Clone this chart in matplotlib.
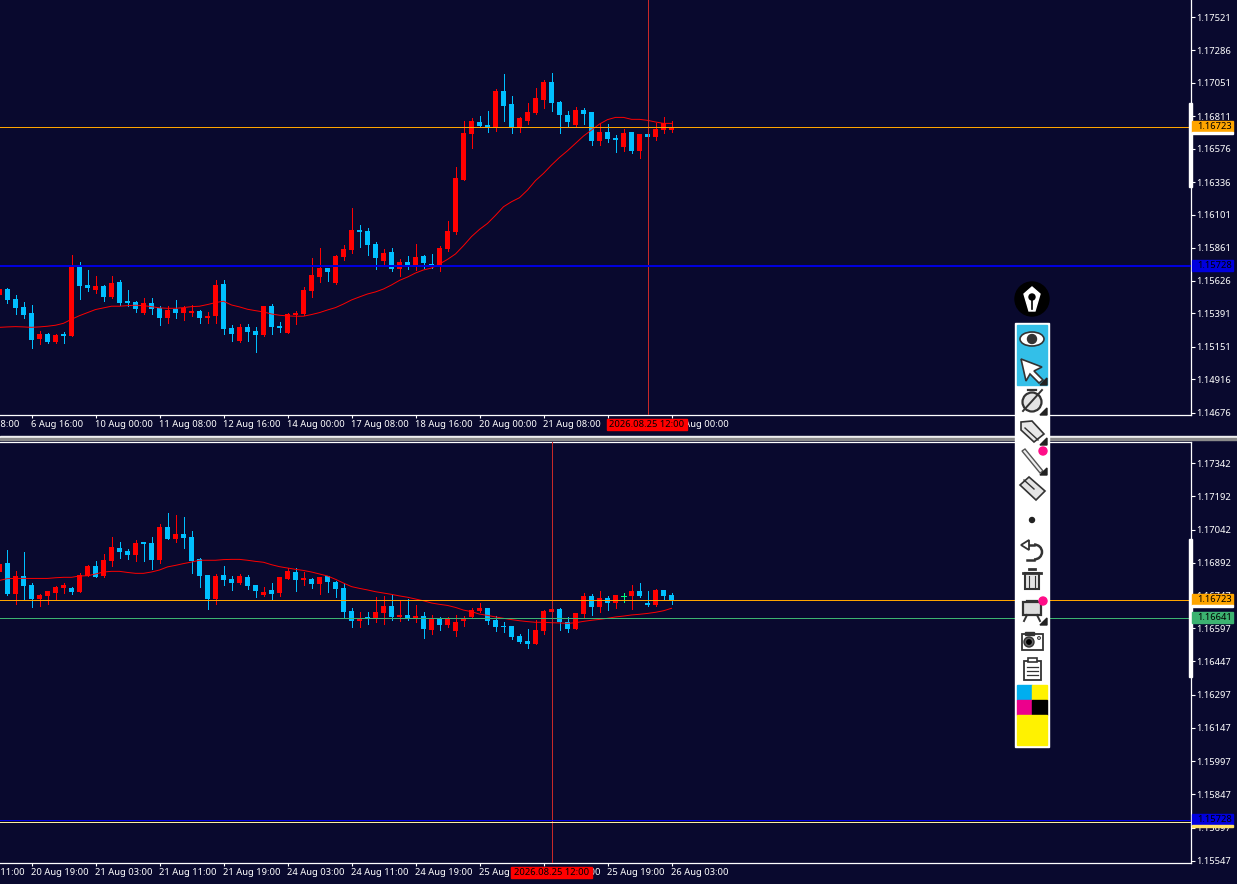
"""EURUSD terminal screenshot: two candle panels with moving average and toolbar."""

import matplotlib

matplotlib.use("Agg")
import matplotlib.pyplot as plt
import numpy as np
from matplotlib.patches import Circle, Ellipse, Polygon, Rectangle, Arc

W, H = 1237, 884
BG = "#09092E"
UP = "#FF0000"
DOWN = "#00BFFF"
DOJI = "#00FF7F"
MA_C = "#FF0000"
CROSS_C = "#C82828"
ORANGE = "#FFA500"
GREEN = "#3CB371"
BLUE = "#0000DD"
FONT = ["Noto Sans", "DejaVu Sans"]
FS = 6.75

# upper panel (first bar is cut by the left edge)
top_open = [1.15523, 1.15566, 1.15494, 1.15437, 1.15394, 1.15206, 1.15242, 1.15185, 1.15242, 1.15228, 1.15725,
            1.15595, 1.15559, 1.15588, 1.15509, 1.15617, 1.15480, 1.15473, 1.15394, 1.15466, 1.15430, 1.15358,
            1.15422, 1.15394, 1.15394, 1.15408, 1.15358, 1.15372, 1.15602, 1.15286, 1.15192, 1.15293, 1.15264,
            1.15235, 1.15444, 1.15300, 1.15250, 1.15379, 1.15386, 1.15552, 1.15653, 1.15717, 1.15610, 1.15796,
            1.15847, 1.15991, 1.15983, 1.15890, 1.15767, 1.15832, 1.15710, 1.15760, 1.15739, 1.15803, 1.15746,
            1.15739, 1.15854, 1.15976, 1.16350, 1.16681, 1.16768, 1.16746, 1.16732, 1.16991, 1.16897, 1.16732,
            1.16775, 1.16833, 1.16926, 1.17056, 1.16912, 1.16818, 1.16746, 1.16854, 1.16840, 1.16631, 1.16696,
            1.16653, 1.16588, 1.16696, 1.16559, 1.16681, 1.16660, 1.16710, 1.16710]
top_high = [1.15566, 1.15571, 1.15523, 1.15473, 1.15451, 1.15264, 1.15250, 1.15242, 1.15257, 1.15811, 1.15761,
            1.15703, 1.15660, 1.15595, 1.15660, 1.15631, 1.15559, 1.15480, 1.15502, 1.15502, 1.15444, 1.15444,
            1.15487, 1.15444, 1.15451, 1.15415, 1.15401, 1.15631, 1.15631, 1.15307, 1.15314, 1.15314, 1.15293,
            1.15444, 1.15458, 1.15329, 1.15394, 1.15408, 1.15581, 1.15789, 1.15861, 1.15717, 1.15811, 1.15883,
            1.16149, 1.16026, 1.16005, 1.15904, 1.15854, 1.15861, 1.15782, 1.15803, 1.15890, 1.15811, 1.15818,
            1.15875, 1.16055, 1.16444, 1.16775, 1.16797, 1.16811, 1.16847, 1.17005, 1.17113, 1.16955, 1.16804,
            1.16905, 1.17012, 1.17070, 1.17120, 1.16919, 1.16847, 1.16876, 1.16869, 1.16840, 1.16753, 1.16753,
            1.16674, 1.16717, 1.16696, 1.16681, 1.16681, 1.16761, 1.16804, 1.16775]
top_low = [1.15523, 1.15468, 1.15386, 1.15358, 1.15142, 1.15171, 1.15178, 1.15178, 1.15178, 1.15228, 1.15494,
           1.15552, 1.15538, 1.15480, 1.15502, 1.15451, 1.15444, 1.15401, 1.15386, 1.15386, 1.15307, 1.15322,
           1.15358, 1.15343, 1.15372, 1.15322, 1.15322, 1.15322, 1.15242, 1.15192, 1.15185, 1.15192, 1.15113,
           1.15228, 1.15242, 1.15257, 1.15250, 1.15314, 1.15379, 1.15509, 1.15617, 1.15624, 1.15602, 1.15775,
           1.15825, 1.15868, 1.15811, 1.15710, 1.15746, 1.15695, 1.15659, 1.15710, 1.15703, 1.15717, 1.15717,
           1.15695, 1.15839, 1.15962, 1.16350, 1.16581, 1.16732, 1.16696, 1.16703, 1.16775, 1.16689, 1.16696,
           1.16753, 1.16825, 1.16869, 1.16847, 1.16689, 1.16739, 1.16732, 1.16753, 1.16602, 1.16602, 1.16624,
           1.16552, 1.16559, 1.16545, 1.16509, 1.16660, 1.16638, 1.16689, 1.16696]
top_close = [1.15566, 1.15490, 1.15430, 1.15379, 1.15199, 1.15242, 1.15185, 1.15235, 1.15228, 1.15725, 1.15588,
             1.15574, 1.15588, 1.15509, 1.15610, 1.15466, 1.15466, 1.15422, 1.15466, 1.15422, 1.15358, 1.15415,
             1.15394, 1.15430, 1.15408, 1.15358, 1.15372, 1.15595, 1.15278, 1.15242, 1.15293, 1.15257, 1.15235,
             1.15444, 1.15293, 1.15286, 1.15386, 1.15394, 1.15559, 1.15667, 1.15717, 1.15689, 1.15804, 1.15854,
             1.15991, 1.15976, 1.15883, 1.15789, 1.15825, 1.15710, 1.15760, 1.15739, 1.15796, 1.15753, 1.15739,
             1.15861, 1.15983, 1.16365, 1.16689, 1.16775, 1.16739, 1.16732, 1.16991, 1.16883, 1.16732, 1.16797,
             1.16840, 1.16941, 1.17056, 1.16905, 1.16818, 1.16768, 1.16854, 1.16825, 1.16631, 1.16696, 1.16645,
             1.16638, 1.16689, 1.16559, 1.16681, 1.16660, 1.16717, 1.16761, 1.16725]
top_ma = [1.15290, 1.15293, 1.15295, 1.15293, 1.15290, 1.15293, 1.15298, 1.15305, 1.15319, 1.15348, 1.15374,
          1.15396, 1.15418, 1.15430, 1.15442, 1.15442, 1.15446, 1.15449, 1.15446, 1.15439, 1.15430, 1.15427,
          1.15427, 1.15432, 1.15439, 1.15442, 1.15454, 1.15468, 1.15478, 1.15451, 1.15437, 1.15420, 1.15410,
          1.15401, 1.15386, 1.15377, 1.15372, 1.15370, 1.15370, 1.15382, 1.15396, 1.15415, 1.15432, 1.15458,
          1.15487, 1.15509, 1.15530, 1.15545, 1.15566, 1.15595, 1.15628, 1.15652, 1.15681, 1.15703, 1.15717,
          1.15746, 1.15779, 1.15818, 1.15878, 1.15943, 1.15995, 1.16038, 1.16096, 1.16158, 1.16194, 1.16223,
          1.16278, 1.16346, 1.16398, 1.16458, 1.16513, 1.16561, 1.16614, 1.16667, 1.16710, 1.16753, 1.16785,
          1.16801, 1.16801, 1.16787, 1.16787, 1.16780, 1.16768, 1.16758, 1.16758]

# lower panel
bot_open = [1.16851, 1.16892, 1.16752, 1.16833, 1.16792, 1.16729, 1.16743, 1.16756, 1.16779, 1.16779, 1.16761,
            1.16833, 1.16878, 1.16833, 1.16901, 1.16959, 1.16946, 1.16928, 1.16986, 1.16982, 1.16905, 1.17054,
            1.17000, 1.17023, 1.17009, 1.16910, 1.16837, 1.16729, 1.16837, 1.16819, 1.16801, 1.16828, 1.16792,
            1.16747, 1.16770, 1.16756, 1.16819, 1.16851, 1.16815, 1.16819, 1.16797, 1.16833, 1.16806, 1.16779,
            1.16675, 1.16630, 1.16648, 1.16643, 1.16666, 1.16697, 1.16648, 1.16657, 1.16643, 1.16652, 1.16589,
            1.16639, 1.16612, 1.16584, 1.16630, 1.16648, 1.16675, 1.16688, 1.16634, 1.16607, 1.16607, 1.16562,
            1.16539, 1.16526, 1.16584, 1.16670, 1.16684, 1.16625, 1.16593, 1.16661, 1.16743, 1.16693, 1.16734,
            1.16711, 1.16743, 1.16743, 1.16765, 1.16711, 1.16702, 1.16770, 1.16747]
bot_high = [1.16887, 1.16950, 1.16855, 1.16941, 1.16801, 1.16752, 1.16765, 1.16788, 1.16801, 1.16783, 1.16846,
            1.16883, 1.16901, 1.16932, 1.17009, 1.16986, 1.16955, 1.16995, 1.16986, 1.17009, 1.17068, 1.17117,
            1.17108, 1.17099, 1.17036, 1.16914, 1.16837, 1.16842, 1.16878, 1.16833, 1.16842, 1.16837, 1.16792,
            1.16783, 1.16801, 1.16828, 1.16869, 1.16869, 1.16851, 1.16824, 1.16828, 1.16833, 1.16810, 1.16800,
            1.16688, 1.16670, 1.16670, 1.16738, 1.16743, 1.16747, 1.16720, 1.16729, 1.16702, 1.16670, 1.16657,
            1.16648, 1.16648, 1.16657, 1.16652, 1.16688, 1.16711, 1.16688, 1.16652, 1.16625, 1.16607, 1.16571,
            1.16593, 1.16634, 1.16679, 1.16684, 1.16688, 1.16648, 1.16666, 1.16756, 1.16752, 1.16765, 1.16743,
            1.16747, 1.16756, 1.16792, 1.16801, 1.16765, 1.16774, 1.16770, 1.16756]
bot_low = [1.16851, 1.16747, 1.16706, 1.16724, 1.16693, 1.16697, 1.16706, 1.16729, 1.16756, 1.16752, 1.16761,
           1.16833, 1.16828, 1.16828, 1.16878, 1.16914, 1.16910, 1.16901, 1.16901, 1.16864, 1.16892, 1.17000,
           1.16986, 1.16959, 1.16846, 1.16783, 1.16684, 1.16706, 1.16792, 1.16770, 1.16797, 1.16774, 1.16738,
           1.16743, 1.16724, 1.16743, 1.16819, 1.16765, 1.16792, 1.16779, 1.16752, 1.16761, 1.16738, 1.16642,
           1.16603, 1.16603, 1.16616, 1.16625, 1.16616, 1.16634, 1.16630, 1.16634, 1.16625, 1.16553, 1.16571,
           1.16589, 1.16603, 1.16562, 1.16607, 1.16643, 1.16670, 1.16616, 1.16584, 1.16580, 1.16548, 1.16530,
           1.16508, 1.16526, 1.16571, 1.16670, 1.16589, 1.16580, 1.16593, 1.16643, 1.16657, 1.16670, 1.16679,
           1.16688, 1.16715, 1.16684, 1.16738, 1.16697, 1.16697, 1.16724, 1.16706]
bot_close = [1.16887, 1.16752, 1.16833, 1.16788, 1.16729, 1.16747, 1.16765, 1.16783, 1.16792, 1.16761, 1.16837,
             1.16878, 1.16828, 1.16905, 1.16964, 1.16941, 1.16928, 1.16982, 1.16977, 1.16905, 1.17054, 1.17000,
             1.17023, 1.17005, 1.16901, 1.16833, 1.16729, 1.16833, 1.16815, 1.16801, 1.16833, 1.16788, 1.16765,
             1.16761, 1.16752, 1.16828, 1.16855, 1.16815, 1.16824, 1.16797, 1.16828, 1.16806, 1.16774, 1.16670,
             1.16630, 1.16639, 1.16639, 1.16670, 1.16697, 1.16648, 1.16657, 1.16639, 1.16652, 1.16593, 1.16639,
             1.16612, 1.16639, 1.16625, 1.16643, 1.16679, 1.16688, 1.16630, 1.16603, 1.16603, 1.16557, 1.16535,
             1.16526, 1.16589, 1.16675, 1.16684, 1.16625, 1.16593, 1.16666, 1.16743, 1.16693, 1.16734, 1.16711,
             1.16747, 1.16743, 1.16765, 1.16743, 1.16702, 1.16770, 1.16743, 1.16723]
bot_ma = [1.16813, 1.16821, 1.16822, 1.16822, 1.16822, 1.16822, 1.16822, 1.16825, 1.16827, 1.16827, 1.16833,
          1.16834, 1.16842, 1.16851, 1.16854, 1.16854, 1.16849, 1.16845, 1.16845, 1.16851, 1.16860, 1.16874,
          1.16881, 1.16889, 1.16896, 1.16904, 1.16904, 1.16904, 1.16907, 1.16908, 1.16908, 1.16904, 1.16899,
          1.16895, 1.16884, 1.16875, 1.16869, 1.16863, 1.16858, 1.16851, 1.16842, 1.16833, 1.16818, 1.16801,
          1.16785, 1.16777, 1.16770, 1.16762, 1.16756, 1.16750, 1.16743, 1.16737, 1.16729, 1.16721, 1.16711,
          1.16705, 1.16700, 1.16691, 1.16679, 1.16672, 1.16661, 1.16655, 1.16648, 1.16642, 1.16636, 1.16631,
          1.16627, 1.16624, 1.16624, 1.16622, 1.16621, 1.16619, 1.16622, 1.16628, 1.16633, 1.16637, 1.16642,
          1.16648, 1.16652, 1.16657, 1.16660, 1.16664, 1.16669, 1.16676, 1.16687]

top_price_ticks = [1.17521, 1.17286, 1.17051, 1.16811, 1.16576, 1.16336, 1.16101, 1.15861, 1.15626, 1.15391,
                   1.15151, 1.14916, 1.14676]
bot_price_ticks = [1.17342, 1.17192, 1.17042, 1.16892, 1.16747, 1.16597, 1.16447, 1.16297, 1.16147, 1.15997,
                   1.15847, 1.15697, 1.15547]
top_times = ["5 Aug 08:00", "6 Aug 16:00", "10 Aug 00:00", "11 Aug 08:00", "12 Aug 16:00", "14 Aug 00:00",
             "17 Aug 08:00", "18 Aug 16:00", "20 Aug 00:00", "21 Aug 08:00", "24 Aug 16:00", "26 Aug 00:00"]
bot_times = ["20 Aug 11:00", "20 Aug 19:00", "21 Aug 03:00", "21 Aug 11:00", "21 Aug 19:00", "24 Aug 03:00",
             "24 Aug 11:00", "24 Aug 19:00", "25 Aug 03:00", "25 Aug 11:00", "25 Aug 19:00", "26 Aug 03:00"]
time_bars = [-5, 3, 11, 19, 27, 35, 43, 51, 59, 67, 75, 83]
cross_time = "2026.08.25 12:00"
top_cross_bar = 80
bot_cross_bar = 68


def candles(ax, o, h, l, c):
    o, h, l, c = map(np.array, (o, h, l, c))
    x = np.arange(len(o)) - 1
    colors = np.where(c > o, UP, np.where(c < o, DOWN, DOJI))
    ax.vlines(x, l, h, colors=colors, linewidth=0.72, antialiased=False, zorder=2)
    ax.bar(x, np.abs(c - o), bottom=np.minimum(o, c), width=0.7, color=colors,
           linewidth=0, antialiased=False, zorder=3)
    flat = c == o
    ax.hlines(o[flat], x[flat] - 0.31, x[flat] + 0.31, colors=DOJI, linewidth=0.72,
              antialiased=False, zorder=3)


def panel(fig, y0, y1, ylim, o, h, l, c, ma, ticks, times):
    ax = fig.add_axes([0, 1 - y1 / H, 1191 / W, (y1 - y0) / H], facecolor=BG)
    ax.set_xlim(-7.5 / 8, (1191 - 7.5) / 8)
    ax.set_ylim(*ylim)
    candles(ax, o, h, l, c)
    ax.plot(np.arange(len(ma)) - 1, ma, color=MA_C, lw=0.7, zorder=4)

    for s in ("left", "top"):
        ax.spines[s].set_visible(False)
    for s in ("right", "bottom"):
        ax.spines[s].set_color("white")
        ax.spines[s].set_linewidth(0.9)

    ax.yaxis.tick_right()
    ax.set_yticks(ticks)
    ax.set_yticklabels([f"{t:.5f}" for t in ticks], fontsize=FS, color="white", family=FONT)
    ax.tick_params(axis="y", length=3, width=0.8, color="white", pad=1.0)
    ax.set_xticks([b for b in time_bars if b > 0])
    ax.set_xticklabels([])
    ax.tick_params(axis="x", length=2.5, width=0.8, color="white")
    for b, t in zip(time_bars, times):
        ax.annotate(t, (b, 0), xycoords=ax.get_xaxis_transform(), xytext=(-0.6, -3.6),
                    textcoords="offset points", ha="left", va="top", fontsize=FS,
                    color="white", family=FONT, annotation_clip=False)
    return ax


def draw_icons(ov):
    edge = "#333333"
    # pen badge
    ov.add_patch(Circle((1032, 299), 17, color="black", zorder=10))
    ov.add_patch(Polygon([(1032, 287), (1040, 294), (1035, 311), (1029, 311), (1024, 294)], color="white", zorder=11))
    ov.add_patch(Circle((1032, 297), 3, color="black", zorder=12))
    ov.plot([1032, 1032], [297, 309], color="black", lw=1.2, zorder=12)

    # toolbar body
    ov.add_patch(Rectangle((1015, 323), 34, 424, color="white", zorder=10))
    ov.add_patch(Rectangle((1017, 325), 30, 60, color="#33BFE8", zorder=11))
    for y1 in (385, 415, 445, 475, 625):
        ov.add_patch(Polygon([(1047, y1), (1040, y1), (1047, y1 - 7)], color="#222222", zorder=13))

    # eye
    ov.add_patch(Ellipse((1032, 339), 24, 14, fc="white", ec=edge, lw=1.2, zorder=12))
    ov.add_patch(Circle((1032, 339), 4.5, color="#333333", zorder=13))
    # arrow
    ov.add_patch(Polygon([(1021, 359), (1042, 367), (1034, 371), (1043, 380), (1039, 383), (1030, 374), (1026, 381)],
                         fc="white", ec=edge, lw=1.2, zorder=12))
    # stopwatch
    ov.add_patch(Circle((1032, 402), 9.5, fc="#E4E4E4", ec=edge, lw=1.6, zorder=12))
    ov.plot([1028, 1036], [390, 390], color=edge, lw=1.6, zorder=13)
    ov.plot([1023, 1042], [411, 390], color=edge, lw=1.4, zorder=13)
    # price tag
    ov.add_patch(Polygon([(1021, 422), (1032, 421), (1044, 434), (1034, 442), (1021, 430)],
                         fc="#E8E8E8", ec=edge, lw=1.2, zorder=12))
    ov.plot([1025, 1038], [428, 440], color=edge, lw=1, zorder=13)
    # line tool
    ov.add_patch(Polygon([(1022, 451), (1025, 449), (1043, 471), (1040, 473)], fc="#EEEEEE", ec="#555555", lw=1, zorder=12))
    ov.add_patch(Circle((1043, 451), 4, color="#FF0D88", zorder=14))
    # eraser
    ov.add_patch(Polygon([(1020, 485), (1029, 477), (1045, 491), (1036, 500)], fc="#E4E4E4", ec=edge, lw=1.2, zorder=12))
    ov.plot([1024, 1034], [480, 489], color=edge, lw=1, zorder=13)
    # dot
    ov.add_patch(Circle((1032, 520), 2.5, color="#222222", zorder=12))
    # undo
    ov.add_patch(Arc((1034, 552), 16, 15, theta1=-90, theta2=90, ec=edge, lw=1.8, zorder=12))
    ov.plot([1034, 1027], [559.5, 559.5], color=edge, lw=1.8, zorder=12)
    ov.plot([1034, 1024], [544.5, 544.5], color=edge, lw=1.8, zorder=12)
    ov.add_patch(Polygon([(1021, 545), (1029, 540), (1029, 550)], fc="white", ec=edge, lw=1.3, zorder=13))
    # trash
    ov.add_patch(Rectangle((1025, 573), 14, 16, fc="#E4E4E4", ec=edge, lw=1.5, zorder=12))
    ov.plot([1023, 1041], [573, 573], color=edge, lw=2, zorder=13)
    ov.plot([1029, 1035], [569, 569], color=edge, lw=2, zorder=13)
    ov.plot([1029, 1029], [576, 587], color=edge, lw=0.8, zorder=13)
    ov.plot([1035, 1035], [576, 587], color=edge, lw=0.8, zorder=13)
    # easel
    ov.add_patch(Rectangle((1023, 602), 18, 13, fc="#DDDDDD", ec=edge, lw=1.6, zorder=12))
    ov.plot([1027, 1037], [601, 601], color=edge, lw=1.6, zorder=13)
    ov.plot([1027, 1024], [615, 621], color=edge, lw=1.4, zorder=13)
    ov.plot([1037, 1040], [615, 621], color=edge, lw=1.4, zorder=13)
    ov.add_patch(Circle((1043, 601), 4, color="#FF0D88", zorder=14))
    # camera
    ov.add_patch(Rectangle((1022, 634), 21, 16, fc="white", ec=edge, lw=1.3, zorder=12))
    ov.add_patch(Rectangle((1025, 632), 9, 3, color=edge, zorder=13))
    ov.add_patch(Circle((1029, 642), 5, fc="#666666", ec=edge, lw=1, zorder=13))
    ov.add_patch(Circle((1029, 642), 2.2, color="black", zorder=14))
    ov.add_patch(Circle((1039, 638), 1.5, fc="#BBBBBB", ec=edge, lw=0.6, zorder=13))
    # clipboard
    ov.add_patch(Rectangle((1024, 661), 17, 19, fc="white", ec=edge, lw=1.3, zorder=12))
    ov.add_patch(Rectangle((1028, 658), 9, 4, fc="white", ec=edge, lw=1.2, zorder=13))
    for y in (667, 671, 675):
        ov.plot([1027, 1038], [y, y], color=edge, lw=0.9, zorder=13)
    # colour chips
    ov.add_patch(Rectangle((1017, 685), 15, 15, color="#00AEEF", zorder=11))
    ov.add_patch(Rectangle((1032, 685), 15, 15, color="#FFF200", zorder=11))
    ov.add_patch(Rectangle((1017, 700), 15, 15, color="#EC008C", zorder=11))
    ov.add_patch(Rectangle((1032, 700), 15, 15, color="black", zorder=11))
    ov.add_patch(Rectangle((1017, 715), 30, 30, color="#FFF200", zorder=11))


def price_tag(ov, y0, y1, fc, text, under=None):
    ov.add_patch(Rectangle((1192, y0), 41, y1 - y0, color=fc, zorder=6))
    if under:
        ov.add_patch(Rectangle((1192, y1), 41, 1.5, color=under, zorder=6))
    ov.text(1197, (y0 + y1) / 2, text, fontsize=FS, family=FONT, color="black",
            va="center", ha="left", zorder=7)


def level(ax, price, color, lw=0.72):
    ax.axhline(price, color=color, lw=lw, antialiased=False, zorder=6)


def main() -> None:
    fig = plt.figure(figsize=(W / 100, H / 100), dpi=100, facecolor=BG)

    ax1 = panel(fig, 0, 415, (1.14659, 1.17646), top_open, top_high, top_low, top_close, top_ma,
                top_price_ticks, top_times)
    ax2 = panel(fig, 442, 863, (1.15537, 1.17438), bot_open, bot_high, bot_low, bot_close, bot_ma,
                bot_price_ticks, bot_times)
    ax2.spines["top"].set_visible(True)
    ax2.spines["top"].set_color("white")
    ax2.spines["top"].set_linewidth(0.9)

    # level lines (upper bid line sits a pixel above the scale reading)
    level(ax1, 1.16733, ORANGE)
    level(ax1, 1.15728, BLUE, lw=1.44)
    ax1.axvline(top_cross_bar, color=CROSS_C, lw=0.72, antialiased=False, zorder=5)
    level(ax2, 1.16723, ORANGE)
    level(ax2, 1.16645, GREEN)
    level(ax2, 1.15724, "#FFF0A0")
    level(ax2, 1.15730, BLUE)
    ax2.axvline(bot_cross_bar, color=CROSS_C, lw=0.72, antialiased=False, zorder=5)

    ov = fig.add_axes([0, 0, 1, 1], facecolor="none")
    ov.set_xlim(0, W)
    ov.set_ylim(H, 0)
    ov.axis("off")

    # separator between the two windows
    ov.add_patch(Rectangle((0, 436), W, 2, color="#F0F0F0", zorder=5))
    ov.add_patch(Rectangle((0, 438), W, 2, color="#8A8A8A", zorder=5))

    # thick marks on the price scales
    ov.add_patch(Rectangle((1189, 103), 3, 84, color="white", zorder=5))
    ov.add_patch(Rectangle((1189, 539), 3, 138, color="white", zorder=5))

    price_tag(ov, 121, 132, ORANGE, "1.16723", under="white")
    price_tag(ov, 260, 271, BLUE, "1.15728")
    price_tag(ov, 594, 605, ORANGE, "1.16723", under="white")
    price_tag(ov, 612, 623, GREEN, "1.16641")
    price_tag(ov, 814, 825, BLUE, "1.15728", under="#FFE066")

    # crosshair time boxes
    for x0, x1, y0, y1 in ((607, 687, 419, 430), (511, 592, 867, 878)):
        ov.add_patch(Rectangle((x0, y0), x1 - x0, y1 - y0, color="#FF0000", zorder=6))
        ov.text((x0 + x1) / 2, (y0 + y1) / 2, cross_time, fontsize=FS, family=FONT,
                color="black", ha="center", va="center", zorder=7)

    draw_icons(ov)
    fig.savefig("out.png", dpi=100, facecolor=BG)


if __name__ == "__main__":
    main()
